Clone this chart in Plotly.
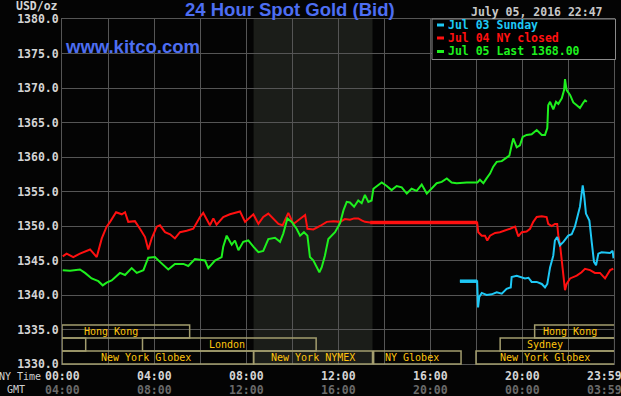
import plotly.graph_objects as go

# ---------------- data ----------------
# hours since 00:00 NY time, price USD/oz
jul05_hours = [0.03, 0.35, 0.78, 1.0, 1.29, 1.58, 1.77, 1.94, 2.16, 2.52, 2.74, 3.03, 3.25, 3.54, 3.75,
               4.04, 4.26, 4.62, 4.91, 5.28, 5.49, 5.78, 6.0, 6.22, 6.36, 6.65, 6.94, 7.01, 7.16, 7.38,
               7.52, 7.67, 7.88, 8.1, 8.32, 8.54, 8.75, 8.97, 9.26, 9.48, 9.62, 9.8, 9.99, 10.2, 10.35,
               10.52, 10.67, 10.78, 10.93, 11.07, 11.19, 11.29, 11.43, 11.58, 11.72, 11.87, 12.09, 12.24,
               12.38, 12.52, 12.7, 12.88, 13.03, 13.17, 13.32, 13.46, 13.54, 13.68, 13.9, 14.12, 14.33,
               14.55, 14.77, 14.99, 15.2, 15.42, 15.64, 15.86, 16.07, 16.29, 16.51, 16.73, 16.94, 17.16,
               17.6, 18.06, 18.17, 18.32, 18.46, 18.61, 18.75, 18.9, 19.12, 19.33, 19.45, 19.55, 19.62,
               19.77, 19.91, 20.03, 20.2, 20.42, 20.64, 20.86, 21.0, 21.1, 21.14, 21.22, 21.36, 21.48,
               21.58, 21.73, 21.83, 21.87, 21.94, 22.09, 22.23, 22.38, 22.52, 22.67, 22.74, 22.82]
jul05_price = [1343.6, 1343.5, 1343.7, 1343.2, 1342.4, 1342.0, 1341.4, 1341.8, 1342.1, 1343.2, 1342.9,
               1343.9, 1343.2, 1343.6, 1345.4, 1345.5, 1344.8, 1343.7, 1344.5, 1344.5, 1344.2, 1345.2,
               1345.1, 1345.0, 1343.9, 1345.0, 1345.5, 1347.0, 1348.6, 1347.3, 1347.9, 1346.5, 1347.7,
               1347.9, 1347.0, 1346.2, 1346.4, 1348.1, 1348.3, 1347.7, 1348.9, 1351.1, 1350.6, 1349.6,
               1348.6, 1349.1, 1348.6, 1345.5, 1345.0, 1344.0, 1343.3, 1344.0, 1345.7, 1348.1, 1348.6,
               1349.1, 1350.4, 1352.3, 1353.5, 1353.4, 1352.8, 1353.7, 1353.3, 1354.5, 1353.5, 1353.7,
               1355.4, 1355.8, 1356.3, 1355.8, 1355.2, 1355.8, 1355.6, 1354.7, 1355.4, 1355.1, 1356.0,
               1354.7, 1355.4, 1356.2, 1356.4, 1356.9, 1356.3, 1356.2, 1356.3, 1356.3, 1356.7, 1356.2,
               1356.9, 1357.6, 1358.6, 1359.3, 1359.4, 1360.0, 1360.2, 1361.7, 1362.7, 1361.4, 1361.7,
               1362.9, 1363.2, 1363.3, 1363.9, 1363.2, 1363.2, 1364.2, 1367.5, 1368.0, 1366.9, 1368.0,
               1367.7, 1368.5, 1369.7, 1371.3, 1369.7, 1369.0, 1367.9, 1367.5, 1367.1, 1367.9, 1368.2,
               1368.0]

jul04_hours = [0.03, 0.2, 0.49, 0.78, 1.22, 1.51, 1.73, 1.94, 2.09, 2.35, 2.6, 2.74, 2.88, 3.17, 3.39,
               3.61, 3.75, 3.9, 4.12, 4.26, 4.48, 4.7, 4.91, 5.13, 5.42, 5.71, 6.0, 6.14, 6.43, 6.58,
               6.72, 7.01, 7.3, 7.74, 7.96, 8.17, 8.32, 8.54, 8.75, 8.97, 9.19, 9.41, 9.59, 9.84, 10.06,
               10.35, 10.57, 10.67, 10.93, 11.22, 11.51, 11.8, 12.09, 12.3, 12.52, 12.7, 12.88, 13.03,
               13.17, 13.4, 18.05, 18.1, 18.25, 18.39, 18.49, 18.61, 18.83, 19.04, 19.26, 19.48, 19.7,
               19.84, 19.99, 20.2, 20.35, 20.49, 20.64, 20.86, 21.07, 21.14, 21.29, 21.43, 21.53, 21.58,
               21.65, 21.77, 21.87, 21.94, 22.09, 22.38, 22.59, 22.74, 22.96, 23.17, 23.39, 23.61,
               23.83, 23.97]
jul04_price = [1345.6, 1346.0, 1345.5, 1346.0, 1346.6, 1345.5, 1348.2, 1349.9, 1350.6, 1352.0, 1351.7,
               1352.0, 1350.6, 1350.7, 1349.6, 1348.4, 1346.6, 1348.2, 1349.9, 1350.1, 1349.1, 1348.8,
               1348.2, 1349.1, 1349.3, 1349.6, 1351.3, 1351.9, 1350.1, 1351.1, 1350.2, 1351.3, 1351.7,
               1352.1, 1350.6, 1351.3, 1351.7, 1350.3, 1351.3, 1351.8, 1351.1, 1350.3, 1350.1, 1351.9,
               1350.3, 1351.1, 1351.6, 1349.6, 1349.5, 1350.0, 1350.6, 1350.7, 1350.6, 1351.0, 1350.9,
               1351.1, 1351.1, 1350.8, 1350.6, 1350.5, 1350.5, 1349.1, 1348.6, 1348.6, 1347.9, 1348.6,
               1349.0, 1349.1, 1349.3, 1349.6, 1349.9, 1348.5, 1349.1, 1349.2, 1349.6, 1350.6, 1351.3,
               1351.4, 1351.3, 1350.3, 1350.0, 1350.3, 1350.3, 1348.6, 1347.4, 1344.0, 1340.7, 1341.6,
               1342.4, 1342.8, 1343.3, 1343.8, 1343.6, 1343.2, 1343.2, 1342.4, 1343.6, 1343.8]

jul03_hours = [17.3, 18.05, 18.09, 18.14, 18.25, 18.46, 18.68, 18.9, 19.12, 19.33, 19.51, 19.55, 19.77,
               19.99, 20.13, 20.28, 20.42, 20.64, 20.86, 21.0, 21.1, 21.22, 21.36, 21.43, 21.53, 21.65,
               21.8, 22.01, 22.16, 22.3, 22.4, 22.52, 22.64, 22.7, 22.78, 22.93, 23.03, 23.13, 23.22,
               23.32, 23.46, 23.68, 23.83, 23.94, 23.98]
jul03_price = [1342.0, 1342.0, 1338.2, 1339.7, 1340.3, 1340.0, 1340.1, 1340.4, 1340.2, 1340.9, 1341.1,
               1342.6, 1342.8, 1342.6, 1342.4, 1342.5, 1341.9, 1341.9, 1341.6, 1341.1, 1341.6, 1344.0,
               1345.7, 1347.9, 1348.4, 1347.2, 1347.7, 1348.6, 1348.8, 1349.9, 1351.3, 1352.8, 1355.9,
               1354.5, 1351.8, 1350.8, 1347.7, 1344.8, 1344.3, 1346.0, 1346.2, 1346.2, 1346.1, 1346.4,
               1345.3]

series_names = ["Jul 03 Sunday", "Jul 04 NY closed", "Jul 05 Last 1368.00"]
ny_tick_hours = [0, 4, 8, 12, 16, 20, 24]
ny_tick_labels = ["00:00", "04:00", "08:00", "12:00", "16:00", "20:00", "23:59"]
gmt_tick_labels = ["04:00", "08:00", "12:00", "16:00", "20:00", "00:00", "03:59"]
y_ticks = [1330, 1335, 1340, 1345, 1350, 1355, 1360, 1365, 1370, 1375, 1380]

# trading sessions: name, start hour, end hour, row (0 bottom), label hour
sessions = [
    ("Hong Kong", -3.0, 5.55, 2, 2.13),
    ("", -3.0, 1.03, 1, None),
    ("London", 3.5, 11.05, 1, 7.17),
    ("New York Globex", -3.0, 8.33, 0, 3.65),
    ("New York NYMEX", 8.33, 13.5, 0, 10.93),
    ("NY Globex", 13.55, 17.35, 0, 15.2),
    ("New York Globex", 18.0, 25.0, 0, 21.0),
    ("Sydney", 19.05, 25.0, 1, 21.0),
    ("Hong Kong", 20.55, 25.0, 2, 22.1),
]
comex_open, comex_close = 8.33, 13.5

# ---------------- style ----------------
W, H = 621, 396
ML, MR, MT, MB = 62, 7, 19, 32
PW, PH = W - ML - MR, H - MT - MB
MONO = "DejaVu Sans Mono"
SANS = "Liberation Sans"
BLUE = "#4d6ef2"
GRID = "#555555"
BG = "#040404"
C_CYAN, C_RED, C_GREEN = "#1ec8f5", "#ff1010", "#1ef01e"


def pxx(x):
    return (x - ML) / PW


def pxy(y):
    return (MT + PH - y) / PH


fig = go.Figure()
for hrs, vals, col, name in [(jul04_hours, jul04_price, C_RED, series_names[1]),
                             (jul05_hours, jul05_price, C_GREEN, series_names[2]),
                             (jul03_hours, jul03_price, C_CYAN, series_names[0])]:
    fig.add_trace(go.Scatter(x=hrs, y=vals, mode="lines", name=name,
                             line=dict(color=col, width=2), showlegend=False, hoverinfo="skip"))

# thicker flat segments (market closed)
i0 = jul04_hours.index(13.4)
fig.add_trace(go.Scatter(x=jul04_hours[i0:i0 + 2], y=jul04_price[i0:i0 + 2], mode="lines",
                         line=dict(color=C_RED, width=3.5), showlegend=False, hoverinfo="skip"))
fig.add_trace(go.Scatter(x=jul03_hours[0:2], y=jul03_price[0:2], mode="lines",
                         line=dict(color=C_CYAN, width=3.5), showlegend=False, hoverinfo="skip"))

shapes = []
# COMEX shading
shapes.append(dict(type="rect", xref="x", yref="paper", x0=comex_open, x1=comex_close, y0=0, y1=1,
                   fillcolor="#1b1d19", line=dict(width=0), layer="below"))

row_h = 13 / PH
ann = []
for name, s, e, row, lx in sessions:
    y0 = row * row_h
    shapes.append(dict(type="rect", xref="x", yref="paper", x0=max(s, 0), x1=min(e, 24.03),
                       y0=y0, y1=y0 + row_h, line=dict(color="#a39d6e", width=1.5),
                       fillcolor="rgba(0,0,0,0)", layer="above"))
    if name:
        ann.append(dict(text=name, x=lx, y=y0 + row_h / 2, xref="x", yref="paper",
                        showarrow=False, xanchor="center", yanchor="middle",
                        font=dict(family=MONO, size=10, color="#ffc40e")))

# legend box
shapes.append(dict(type="rect", xref="paper", yref="paper", x0=pxx(432), x1=pxx(615.5),
                   y0=pxy(59.5), y1=1.0, fillcolor="#000000", line=dict(color="#8a8a8a", width=1),
                   layer="above"))
for i, (nm, col) in enumerate(zip(series_names, [C_CYAN, C_RED, C_GREEN])):
    yy = [25, 38, 51.5][i]
    shapes.append(dict(type="line", xref="paper", yref="paper", x0=pxx(437), x1=pxx(444),
                       y0=pxy(yy), y1=pxy(yy), line=dict(color=col, width=3), layer="above"))
    ann.append(dict(text=nm, x=pxx(446), y=pxy(yy), xref="paper", yref="paper", showarrow=False,
                    xanchor="left", yanchor="middle",
                    font=dict(family=MONO, size=11.5, color=col, weight="bold")))

# x tick labels (two rows)
for h, lab, g in zip(ny_tick_hours, ny_tick_labels, gmt_tick_labels):
    shift = -10 if h == 24 else 0
    ann.append(dict(text=lab, x=h, y=pxy(375.5), xref="x", yref="paper", showarrow=False,
                    xanchor="center", yanchor="middle", xshift=shift,
                    font=dict(family=MONO, size=11.5, color="#d4d4d4", weight="bold")))
    ann.append(dict(text=g, x=h, y=pxy(389.5), xref="x", yref="paper", showarrow=False,
                    xanchor="center", yanchor="middle", xshift=shift,
                    font=dict(family=MONO, size=11.5, color="#6a6a6a", weight="bold")))

ann.append(dict(text="NY Time", x=pxx(43), y=pxy(376.5), xref="paper", yref="paper", showarrow=False,
                xanchor="right", yanchor="middle", font=dict(family=MONO, size=10, color="#d0d0d0")))
ann.append(dict(text="GMT", x=pxx(16), y=pxy(389.5), xref="paper", yref="paper", showarrow=False,
                xanchor="center", yanchor="middle", font=dict(family=MONO, size=10, color="#d0d0d0")))
ann.append(dict(text="USD/oz", x=pxx(37), y=pxy(6), xref="paper", yref="paper", showarrow=False,
                xanchor="center", yanchor="middle",
                font=dict(family=MONO, size=11.5, color="#d4d4d4", weight="bold")))
ann.append(dict(text="24 Hour Spot Gold (Bid)", x=pxx(289.5), y=pxy(9.5), xref="paper", yref="paper",
                showarrow=False, xanchor="center", yanchor="middle",
                font=dict(family=SANS, size=18.5, color=BLUE, weight="bold")))
ann.append(dict(text="www.kitco.com", x=pxx(63), y=pxy(46), xref="paper", yref="paper",
                showarrow=False, xanchor="left", yanchor="middle",
                font=dict(family=SANS, size=18.5, color=BLUE, weight="bold")))
ann.append(dict(text="July 05, 2016 22:47", x=pxx(605), y=pxy(12), xref="paper", yref="paper",
                showarrow=False, xanchor="right", yanchor="middle",
                font=dict(family=MONO, size=11.5, color="#c8c8c8", weight="bold")))

fig.update_layout(
    width=W, height=H, margin=dict(l=ML, r=MR, t=MT, b=MB),
    paper_bgcolor=BG, plot_bgcolor=BG,
    shapes=shapes, annotations=ann, showlegend=False,
    xaxis=dict(range=[0, 24], dtick=2, tick0=0, showgrid=True, gridcolor=GRID, gridwidth=1,
               showticklabels=False, zeroline=False, showline=True, linecolor=GRID, mirror=True,
               ticks=""),
    yaxis=dict(range=[1330, 1380], tickvals=y_ticks, tickformat=".1f", showgrid=True,
               gridcolor=GRID, gridwidth=1, zeroline=False, showline=True, linecolor=GRID,
               mirror=True, ticks="",
               tickfont=dict(family=MONO, size=11.5, color="#d4d4d4", weight="bold")),
)

fig.write_html("out.html", config={"displayModeBar": False},
               post_script="document.body.style.margin='0';document.body.style.padding='0';"
                           "document.body.style.background='" + BG + "';"
                           "document.body.style.overflow='hidden';")
